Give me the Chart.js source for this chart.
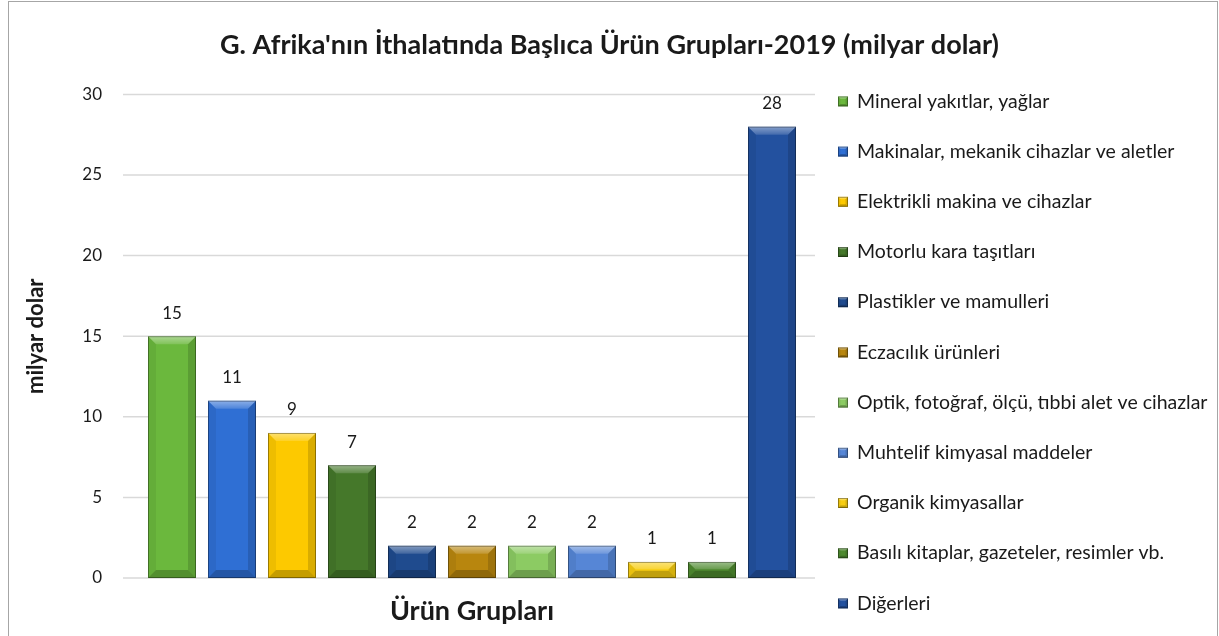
<!DOCTYPE html>
<html>
<head>
<meta charset="utf-8">
<script src="https://cdn.jsdelivr.net/npm/chart.js@4.4.1/dist/chart.umd.min.js"></script>
<style>
    body { margin: 0; background: #fff; }
    #wrap { position: relative; width: 1219px; height: 636px; overflow: hidden; }
    #frame { position: absolute; left: 8px; top: 1px; width: 1208px; height: 660px; border: 1px solid #a6a6a6; pointer-events: none; }
</style>
</head>
<body>
<div id="wrap">
    <canvas id="importChart" width="1219" height="636"></canvas>
    <div id="frame"></div>
</div>
<script>
// G. Afrika ithalatı 2019 - başlıca ürün grupları (milyar dolar)
const categories = [
    'Mineral yakıtlar, yağlar',
    'Makinalar, mekanik cihazlar ve aletler',
    'Elektrikli makina ve cihazlar',
    'Motorlu kara taşıtları',
    'Plastikler ve mamulleri',
    'Eczacılık ürünleri',
    'Optik, fotoğraf, ölçü, tıbbi alet ve cihazlar',
    'Muhtelif kimyasal maddeler',
    'Organik kimyasallar',
    'Basılı kitaplar, gazeteler, resimler vb.',
    'Diğerleri'
];
const values = [15, 11, 9, 7, 2, 2, 2, 2, 1, 1, 28];
const barColors = [
    '#6bb83d', '#2f6fd4', '#fdc900', '#45782a', '#1f4b8e', '#b8860e',
    '#8ccb63', '#5686d6', '#f7cd12', '#4e8a2f', '#23519f'
];
const yTicks = [0, 5, 10, 15, 20, 25, 30];

const FONT = 'Lato, "Open Sans", sans-serif';
const TEXT = '#1a1a1a';

// Excel-style bevel on a rectangle
function bevel(ctx, l, t, r, b, size) {
    const s = Math.min(size, (b - t) / 2.2, (r - l) / 2.2);
    ctx.save();
    const hl = ctx.createLinearGradient(0, t, 0, t + s);
    hl.addColorStop(0, 'rgba(255,255,255,0.45)');
    hl.addColorStop(1, 'rgba(255,255,255,0.15)');
    ctx.fillStyle = hl;
    ctx.beginPath();
    ctx.moveTo(l, t); ctx.lineTo(r, t); ctx.lineTo(r - s, t + s); ctx.lineTo(l + s, t + s);
    ctx.closePath(); ctx.fill();
    ctx.fillStyle = 'rgba(0,0,0,0.22)';
    ctx.beginPath();
    ctx.moveTo(l, b); ctx.lineTo(r, b); ctx.lineTo(r - s, b - s); ctx.lineTo(l + s, b - s);
    ctx.closePath(); ctx.fill();
    ctx.fillStyle = 'rgba(0,0,0,0.06)';
    ctx.beginPath();
    ctx.moveTo(l, t); ctx.lineTo(l + s, t + s); ctx.lineTo(l + s, b - s); ctx.lineTo(l, b);
    ctx.closePath(); ctx.fill();
    ctx.fillStyle = 'rgba(0,0,0,0.14)';
    ctx.beginPath();
    ctx.moveTo(r, t); ctx.lineTo(r - s, t + s); ctx.lineTo(r - s, b - s); ctx.lineTo(r, b);
    ctx.closePath(); ctx.fill();
    ctx.strokeStyle = 'rgba(0,0,0,0.35)';
    ctx.lineWidth = 1;
    ctx.strokeRect(l + 0.5, t + 0.5, r - l - 1, b - t - 1);
    ctx.restore();
}

// gridlines run a bit wider than the bars
const gridPlugin = {
    id: 'wideGrid',
    beforeDatasetsDraw(chart) {
        const { ctx, chartArea, scales: { y } } = chart;
        ctx.save();
        ctx.strokeStyle = '#d9d9d9';
        ctx.lineWidth = 1.5;
        y.ticks.forEach(t => {
            const py = y.getPixelForValue(t.value);
            ctx.beginPath();
            ctx.moveTo(chartArea.left - 19, py);
            ctx.lineTo(chartArea.right + 13, py);
            ctx.stroke();
        });
        ctx.restore();
    }
};

const barDecor = {
    id: 'barDecor',
    afterDatasetsDraw(chart) {
        const ctx = chart.ctx;
        const meta = chart.getDatasetMeta(0);
        meta.data.forEach((bar, i) => {
            const p = bar.getProps(['x', 'y', 'base', 'width'], true);
            bevel(ctx, p.x - p.width / 2, p.y, p.x + p.width / 2, p.base, 8);
            ctx.save();
            ctx.font = '17px ' + FONT;
            ctx.fillStyle = TEXT;
            ctx.textAlign = 'center';
            ctx.textBaseline = 'middle';
            ctx.fillText(values[i], p.x, p.y - 23);
            ctx.restore();
        });
    }
};

const sideLegend = {
    id: 'sideLegend',
    afterDraw(chart) {
        const { ctx, chartArea } = chart;
        const x0 = chartArea.right + 36;
        const y0 = chartArea.top + 7;
        const step = 50.2;
        ctx.save();
        ctx.font = '19.5px ' + FONT;
        ctx.textBaseline = 'middle';
        ctx.textAlign = 'left';
        chart.data.labels.forEach((label, i) => {
            const cy = y0 + i * step;
            ctx.fillStyle = barColors[i];
            ctx.fillRect(x0, cy - 5, 10, 10);
            bevel(ctx, x0, cy - 5, x0 + 10, cy + 5, 2.5);
            ctx.fillStyle = TEXT;
            ctx.fillText(label, x0 + 19, cy);
        });
        ctx.restore();
    }
};

const ctx = document.getElementById('importChart').getContext('2d');

new Chart(ctx, {
    type: 'bar',
    data: {
        labels: categories,
        datasets: [{
            data: values,
            backgroundColor: barColors,
            borderWidth: 0,
            categoryPercentage: 1,
            barPercentage: 0.8
        }]
    },
    options: {
        responsive: false,
        animation: false,
        layout: { padding: 0 },
        plugins: {
            legend: { display: false },
            tooltip: { enabled: false },
            title: {
                display: true,
                text: "G. Afrika'nın İthalatında Başlıca Ürün Grupları-2019 (milyar dolar)",
                color: TEXT,
                font: { family: FONT, size: 27, weight: 'bold' },
                padding: { top: 29, bottom: 33 }
            }
        },
        scales: {
            x: {
                grid: { display: false },
                border: { display: false },
                ticks: { display: false },
                title: {
                    display: true,
                    text: 'Ürün Grupları',
                    color: TEXT,
                    font: { family: FONT, size: 27, weight: 'bold' },
                    padding: { top: 0, bottom: 9 }
                },
                afterFit(scale) { scale.height = 58; }
            },
            y: {
                min: 0,
                max: 30,
                afterBuildTicks(scale) { scale.ticks = yTicks.map(v => ({ value: v })); },
                grid: { display: false },
                border: { display: false },
                ticks: {
                    color: TEXT,
                    padding: 32,
                    font: { family: FONT, size: 17 }
                },
                title: {
                    display: true,
                    text: 'milyar dolar',
                    color: TEXT,
                    font: { family: FONT, size: 22, weight: 'bold' },
                    padding: { top: 23, bottom: 0 }
                },
                afterFit(scale) { scale.width = 142; }
            },
            // empty axis that keeps room for the legend on the right
            legendSpace: {
                position: 'right',
                grid: { display: false },
                border: { display: false },
                ticks: { display: false },
                afterFit(scale) { scale.width = 417; }
            }
        }
    },
    plugins: [gridPlugin, barDecor, sideLegend]
});
</script>
</body>
</html>
